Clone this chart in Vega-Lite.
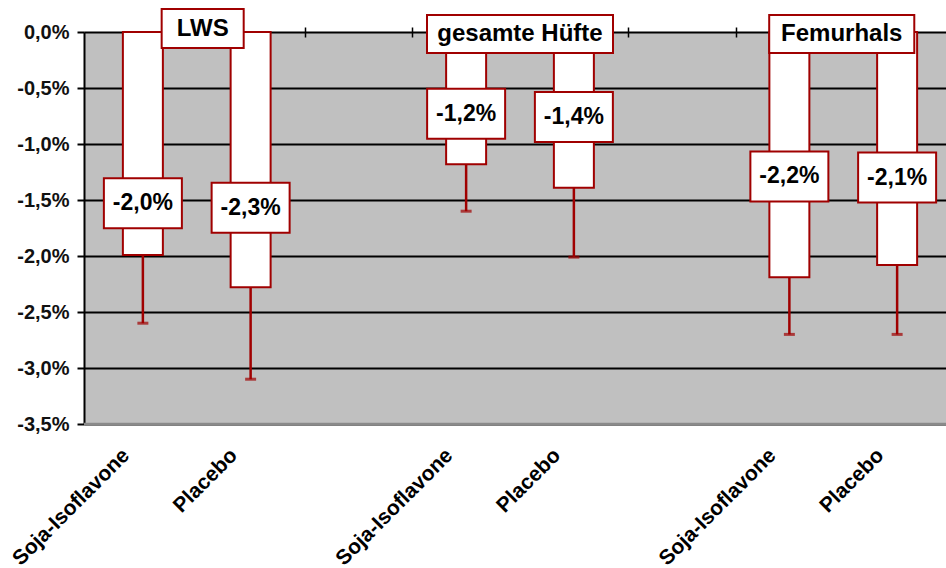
{
  "$schema": "https://vega.github.io/schema/vega-lite/v6.json",
  "autosize": {"type": "none"},
  "width": 872,
  "height": 392,
  "padding": {"left": 84, "top": 32, "right": 0, "bottom": 144},
  "background": "white",
  "view": {"fill": "#c0c0c0", "stroke": null},
  "config": {
    "axisY": {
      "values": [0, -0.5, -1, -1.5, -2, -2.5, -3, -3.5],
      "labelExpr": "replace(replace(format(datum.value, '.1f'), '.', ','), '\u2212', '-') + '%'",
      "grid": true, "gridColor": "black", "gridWidth": 2,
      "domain": true, "domainColor": "black", "domainWidth": 2,
      "ticks": true, "tickColor": "black", "tickWidth": 2, "tickSize": 7,
      "labelPadding": 8, "labelFont": "Liberation Sans", "labelFontSize": 20, "labelFontWeight": "bold", "labelColor": "#111111",
      "labelOverlap": false, "labelBound": false, "labelFlush": false
    }
  },
  "datasets": {
    "bars": [
      {"group": "LWS", "cond": "Soja-Isoflavone", "pos": 0.5, "value": -1.99, "err": -2.6, "label": "-2,0%", "labely": -1.53},
      {"group": "LWS", "cond": "Placebo", "pos": 1.5, "value": -2.28, "err": -3.1, "label": "-2,3%", "labely": -1.57},
      {"group": "gesamte Hüfte", "cond": "Soja-Isoflavone", "pos": 3.5, "value": -1.18, "err": -1.6, "label": "-1,2%", "labely": -0.73},
      {"group": "gesamte Hüfte", "cond": "Placebo", "pos": 4.5, "value": -1.39, "err": -2.01, "label": "-1,4%", "labely": -0.76},
      {"group": "Femurhals", "cond": "Soja-Isoflavone", "pos": 6.5, "value": -2.19, "err": -2.7, "label": "-2,2%", "labely": -1.29},
      {"group": "Femurhals", "cond": "Placebo", "pos": 7.5, "value": -2.08, "err": -2.7, "label": "-2,1%", "labely": -1.3}
    ],
    "titles": [
      {"group": "LWS", "pos": 1.055, "ty": 0.031},
      {"group": "gesamte Hüfte", "pos": 4.0, "ty": -0.018},
      {"group": "Femurhals", "pos": 6.986, "ty": -0.018}
    ]
  },
  "resolve": {"axis": {"x": "independent"}},
  "layer": [
    {
      "data": {"name": "bars"},
      "mark": {"type": "bar", "width": 40, "fill": "white", "stroke": "#a00000", "strokeWidth": 2},
      "encoding": {
        "x": {
          "field": "pos", "type": "quantitative",
          "scale": {"domain": [0, 8], "nice": false, "zero": false},
          "axis": {
            "orient": "bottom", "title": null, "values": [0.5, 1.5, 3.5, 4.5, 6.5, 7.5],
            "labelExpr": "indexof([0.5, 3.5, 6.5], datum.value) >= 0 ? 'Soja-Isoflavone' : 'Placebo'",
            "ticks": false, "tickSize": 0, "domain": false, "grid": false,
            "labelAngle": -45, "labelAlign": "right", "labelBaseline": "middle",
            "labelPadding": 28, "labelOffset": -17,
            "labelFont": "Liberation Sans", "labelFontSize": 21, "labelFontWeight": "bold", "labelColor": "black",
            "labelOverlap": false, "labelBound": false, "labelFlush": false
          }
        },
        "y": {
          "field": "value", "type": "quantitative", "title": null,
          "scale": {"domain": [-3.5, 0], "nice": false, "zero": false}
        }
      }
    },
    {
      "data": {"values": [{}]},
      "mark": {"type": "rule", "color": "#8a8a8a", "strokeWidth": 2.5},
      "encoding": {"y": {"datum": -3.5, "type": "quantitative", "title": null}}
    },
    {
      "data": {"name": "bars"},
      "mark": {"type": "rule", "color": "#a00000", "strokeWidth": 2.5},
      "encoding": {
        "x": {
          "field": "pos", "type": "quantitative",
          "axis": {
            "orient": "top", "title": null, "values": [1, 2, 3, 4, 5, 6, 7],
            "labels": false, "domain": false, "grid": false,
            "ticks": true, "tickSize": 10, "tickWidth": 1.5, "tickColor": "black", "offset": -5
          }
        },
        "y": {"field": "value", "type": "quantitative", "title": null},
        "y2": {"field": "err"}
      }
    },
    {
      "data": {"name": "bars"},
      "mark": {"type": "tick", "orient": "horizontal", "color": "#a00000", "size": 11, "thickness": 3},
      "encoding": {
        "x": {"field": "pos", "type": "quantitative", "axis": null},
        "y": {"field": "err", "type": "quantitative", "title": null}
      }
    },
    {
      "data": {"name": "bars"},
      "mark": {"type": "point", "shape": "M-1,-0.641L1,-0.641L1,0.641L-1,0.641Z", "size": 6084, "filled": true, "fill": "white", "stroke": "#a00000", "strokeWidth": 2, "opacity": 1},
      "encoding": {
        "x": {"field": "pos", "type": "quantitative", "axis": null},
        "y": {"field": "labely", "type": "quantitative", "title": null}
      }
    },
    {
      "data": {"name": "bars"},
      "mark": {"type": "text", "font": "Liberation Sans", "fontSize": 23, "fontWeight": "bold", "color": "black", "baseline": "middle", "align": "center"},
      "encoding": {
        "x": {"field": "pos", "type": "quantitative", "axis": null},
        "y": {"field": "labely", "type": "quantitative", "title": null},
        "text": {"field": "label"}
      }
    },
    {
      "data": {"name": "titles"},
      "mark": {"type": "point", "size": 34596, "filled": true, "fill": "white", "stroke": "#a00000", "strokeWidth": 2, "opacity": 1},
      "encoding": {
        "x": {"field": "pos", "type": "quantitative", "axis": null},
        "y": {"field": "ty", "type": "quantitative", "title": null},
        "shape": {
          "field": "group", "type": "nominal", "legend": null,
          "scale": {
            "domain": ["LWS", "gesamte Hüfte", "Femurhals"],
            "range": ["M-0.441,-0.21L0.441,-0.21L0.441,0.21L-0.441,0.21Z", "M-1,-0.204L1,-0.204L1,0.204L-1,0.204Z", "M-0.78,-0.204L0.78,-0.204L0.78,0.204L-0.78,0.204Z"]
          }
        }
      }
    },
    {
      "data": {"name": "titles"},
      "mark": {"type": "text", "font": "Liberation Sans", "fontSize": 24, "fontWeight": "bold", "color": "black", "baseline": "middle", "align": "center"},
      "encoding": {
        "x": {"field": "pos", "type": "quantitative", "axis": null},
        "y": {"field": "ty", "type": "quantitative", "title": null},
        "text": {"field": "group"}
      }
    }
  ]
}
